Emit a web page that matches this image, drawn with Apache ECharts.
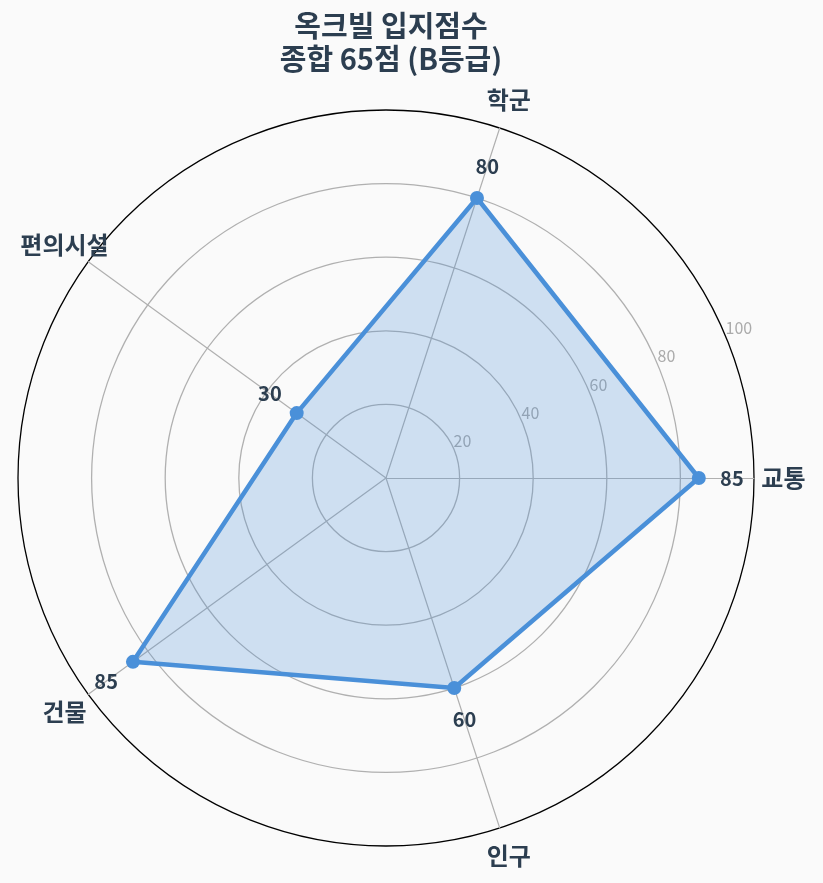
<!DOCTYPE html>
<html>
<head>
<meta charset="utf-8">
<script src="https://cdn.jsdelivr.net/npm/echarts@6/dist/echarts.min.js"></script>
<style>
  html, body { margin: 0; padding: 0; background: #fafafa; }
  #chart { width: 823px; height: 883px; }
</style>
</head>
<body>
<div id="chart"></div>
<script>
// 입지점수 항목 (반시계 방향, 교통부터)
const categories = ['교통', '학군', '편의시설', '건물', '인구']
const scores = [85, 80, 30, 85, 60]
const radiusTicks = [20, 40, 60, 80, 100]
const titleText = '옥크빌 입지점수\n종합 65점 (B등급)'

const LABEL_PAD = 9 // 점수 라벨을 점 바깥쪽으로 띄움
const NAME_R = 108 // 항목 이름 위치 (축 단위)
const dark = '#2c3e50'
const blue = '#4a90d9'
const grid = '#b0b0b0'
const font = '"Noto Sans CJK KR", "Noto Sans", sans-serif'

const hidden = {
  symbol: 'circle',
  symbolSize: 1,
  itemStyle: { color: 'rgba(0,0,0,0)' },
  lineStyle: { width: 0, opacity: 0 },
  silent: true,
}

const myChart = echarts.init(document.getElementById('chart'))
myChart.setOption({
  backgroundColor: '#fafafa',
  title: {
    text: titleText,
    left: 386,
    textAlign: 'center',
    top: 4,
    textStyle: { fontFamily: font, fontSize: 29, fontWeight: 'bold', color: dark, lineHeight: 33 },
  },
  radar: {
    center: [386, 478],
    radius: 368,
    startAngle: 0,
    shape: 'circle',
    splitNumber: 5,
    indicator: categories.map(name => ({ name, min: 0, max: 100 })),
    axisName: { show: false },
    axisLine: { lineStyle: { color: grid, width: 1.2 } },
    axisTick: { show: false },
    axisLabel: { show: false },
    splitArea: { show: false },
    splitLine: {
      lineStyle: { color: [grid, grid, grid, grid, grid, '#000'], width: 1.3 },
    },
  },
  // 눈금 숫자용 보조 극좌표
  polar: { center: [386, 478], radius: 368 },
  angleAxis: { type: 'value', startAngle: 22.5, show: false },
  radiusAxis: {
    min: 0,
    max: 100,
    interval: 20,
    axisLine: { show: false },
    axisTick: { show: false },
    splitLine: { show: false },
    axisLabel: {
      fontFamily: font,
      fontSize: 16,
      color: '#aaaaaa',
      margin: 1,
      align: 'left',
      verticalAlign: 'bottom',
      formatter: v => (radiusTicks.indexOf(v) >= 0 ? String(v) : ''),
    },
  },
  series: [
    {
      type: 'radar',
      z: 3,
      symbol: 'circle',
      symbolSize: 14,
      lineStyle: { color: blue, width: 4.5 },
      itemStyle: { color: blue },
      areaStyle: { color: blue, opacity: 0.25 },
      data: [{ value: scores }],
    },
    {
      type: 'radar',
      z: 4,
      ...hidden,
      data: [{ value: scores.map(v => v + LABEL_PAD) }],
      label: {
        show: true,
        position: 'inside',
        formatter: p => String(p.value - LABEL_PAD),
        fontFamily: font,
        fontSize: 20,
        fontWeight: 'bold',
        color: dark,
      },
    },
    {
      type: 'radar',
      z: 4,
      ...hidden,
      data: [{ value: categories.map(() => NAME_R) }],
      label: {
        show: true,
        position: 'inside',
        formatter: p => categories[p.dimensionIndex != null ? p.dimensionIndex : 0],
        fontFamily: font,
        fontSize: 24,
        fontWeight: 'bold',
        color: dark,
      },
    },
  ],
})
</script>
</body>
</html>
